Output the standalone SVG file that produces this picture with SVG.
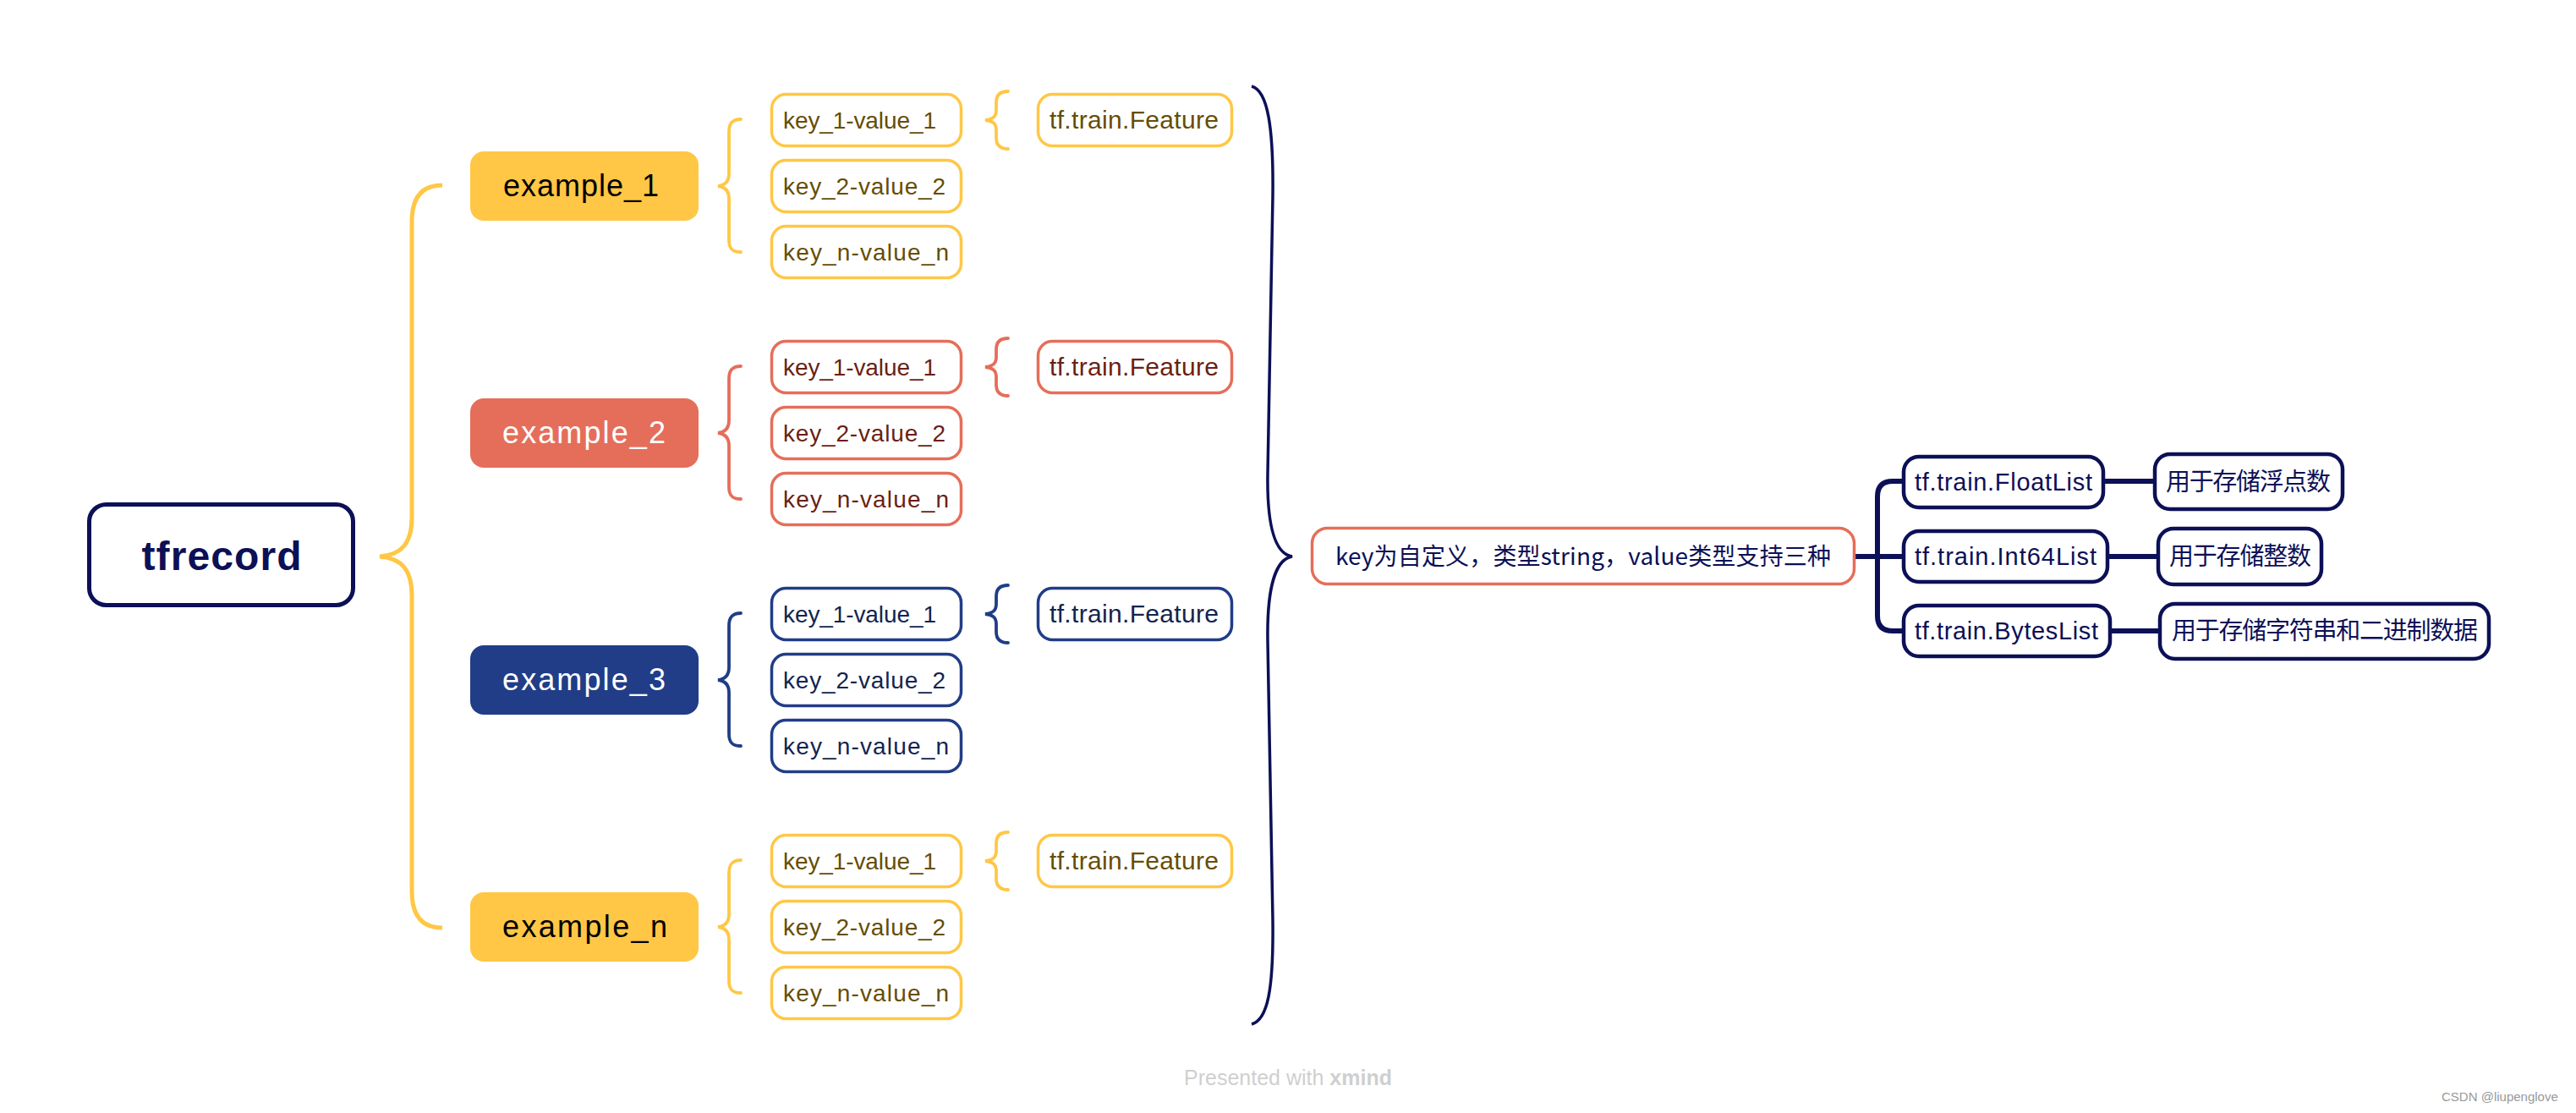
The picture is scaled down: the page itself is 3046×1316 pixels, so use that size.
<svg xmlns="http://www.w3.org/2000/svg" width="3046" height="1316" viewBox="0 0 3046 1316">
<style>
text{font-family:"Liberation Sans","Noto Sans CJK SC",sans-serif;}
.cjk{font-family:"Noto Sans CJK SC","Liberation Sans",sans-serif;}
.box{fill:#fff;stroke-width:3.5;}
.y{stroke:#FFC745;} .r{stroke:#E56E5A;} .b{stroke:#213D87;}
.ty{fill:#664D03;} .tr{fill:#6B1F14;} .tb{fill:#13244F;}
.kt{font-size:28px;}
.ft{font-size:30px;}
.ex{font-size:36px;}
.nv{fill:#fff;stroke:#0C1056;stroke-width:4.5;}
.nt{fill:#0C1056;font-size:29px;}
.br{fill:none;stroke-width:3.8;stroke-linecap:round;}
.ln{fill:none;stroke:#0C1056;stroke-width:6;}
</style>
<rect width="3046" height="1316" fill="#fff"/>
<g id="connectors">
  <path d="M523,219 C500,219 487,232 487,262 L487,612 C487,642 475,656 449,658 C475,660 487,674 487,704 L487,1054 C487,1084 500,1097 523,1097" fill="none" stroke="#FFC745" stroke-width="5"/>
  <g id="braces-row1" class="y">
    <path class="br" d="M876,141 C866,141 862,146 862,156 L862,205 C862,214 858,219 849,220 C858,221 862,226 862,235 L862,284 C862,294 866,298 876,298"/>
    <path class="br" d="M1192,108 C1183,108 1178,112 1178,121 L1178,130 C1178,138 1174,141 1165,142 C1174,143 1178,146 1178,154 L1178,163 C1178,172 1183,176 1192,176"/>
  </g>
  <g id="braces-row2" class="r" transform="translate(0,292)">
    <path class="br" d="M876,141 C866,141 862,146 862,156 L862,205 C862,214 858,219 849,220 C858,221 862,226 862,235 L862,284 C862,294 866,298 876,298"/>
    <path class="br" d="M1192,108 C1183,108 1178,112 1178,121 L1178,130 C1178,138 1174,141 1165,142 C1174,143 1178,146 1178,154 L1178,163 C1178,172 1183,176 1192,176"/>
  </g>
  <g id="braces-row3" class="b" transform="translate(0,584)">
    <path class="br" d="M876,141 C866,141 862,146 862,156 L862,205 C862,214 858,219 849,220 C858,221 862,226 862,235 L862,284 C862,294 866,298 876,298"/>
    <path class="br" d="M1192,108 C1183,108 1178,112 1178,121 L1178,130 C1178,138 1174,141 1165,142 C1174,143 1178,146 1178,154 L1178,163 C1178,172 1183,176 1192,176"/>
  </g>
  <g id="braces-row4" class="y" transform="translate(0,876)">
    <path class="br" d="M876,141 C866,141 862,146 862,156 L862,205 C862,214 858,219 849,220 C858,221 862,226 862,235 L862,284 C862,294 866,298 876,298"/>
    <path class="br" d="M1192,108 C1183,108 1178,112 1178,121 L1178,130 C1178,138 1174,141 1165,142 C1174,143 1178,146 1178,154 L1178,163 C1178,172 1183,176 1192,176"/>
  </g>
  <path d="M1480,102 C1499,107 1506,150 1505,232 L1499,560 C1498,622 1508,655 1528,658 C1508,661 1498,696 1499,758 L1505,1088 C1506,1170 1499,1206 1480,1211" fill="none" stroke="#0C1056" stroke-width="3.5"/>
  <path class="ln" d="M2194,658 L2249,658 M2249,569 L2238,569 Q2220,569 2220,587 L2220,728 Q2220,746 2238,746 L2249,746"/>
  <path class="ln" stroke-width="7" d="M2489,569 L2546,569 M2494,658 L2550,658 M2497,746 L2552,746"/>
</g>
<g id="tfrecord">
  <rect x="105.5" y="596.5" width="312" height="119" rx="20" fill="#fff" stroke="#0C1056" stroke-width="5"/>
  <text x="262" y="674" text-anchor="middle" font-size="48" font-weight="bold" fill="#0C1056" textLength="189">tfrecord</text>
</g>
<g id="example_1">
  <rect x="556" y="179" width="270" height="82" rx="16" fill="#FFC745"/>
  <text class="ex" x="595" y="232" fill="#000" textLength="184">example_1</text>
</g>
<g id="example_2">
  <rect x="556" y="471" width="270" height="82" rx="16" fill="#E56E5A"/>
  <text class="ex" x="594" y="524" fill="#fff" textLength="193">example_2</text>
</g>
<g id="example_3">
  <rect x="556" y="763" width="270" height="82" rx="16" fill="#213D87"/>
  <text class="ex" x="594" y="816" fill="#fff" textLength="193">example_3</text>
</g>
<g id="example_n">
  <rect x="556" y="1055" width="270" height="82" rx="16" fill="#FFC745"/>
  <text class="ex" x="594" y="1108" fill="#000" textLength="195">example_n</text>
</g>
<g id="row1-key1"><rect class="box y" x="912.5" y="111.5" width="224" height="61" rx="17"/><text class="kt ty" x="926" y="152" textLength="181">key_1-value_1</text></g>
<g id="row1-key2"><rect class="box y" x="912.5" y="189.5" width="224" height="61" rx="17"/><text class="kt ty" x="926" y="230" textLength="192">key_2-value_2</text></g>
<g id="row1-keyn"><rect class="box y" x="912.5" y="267.5" width="224" height="61" rx="17"/><text class="kt ty" x="926" y="308" textLength="196">key_n-value_n</text></g>
<g id="row1-feature"><rect class="box y" x="1227.5" y="111.5" width="229" height="61" rx="17"/><text class="ft ty" x="1241" y="152" textLength="200">tf.train.Feature</text></g>
<g id="row2-key1"><rect class="box r" x="912.5" y="403.5" width="224" height="61" rx="17"/><text class="kt tr" x="926" y="444" textLength="181">key_1-value_1</text></g>
<g id="row2-key2"><rect class="box r" x="912.5" y="481.5" width="224" height="61" rx="17"/><text class="kt tr" x="926" y="522" textLength="192">key_2-value_2</text></g>
<g id="row2-keyn"><rect class="box r" x="912.5" y="559.5" width="224" height="61" rx="17"/><text class="kt tr" x="926" y="600" textLength="196">key_n-value_n</text></g>
<g id="row2-feature"><rect class="box r" x="1227.5" y="403.5" width="229" height="61" rx="17"/><text class="ft tr" x="1241" y="444" textLength="200">tf.train.Feature</text></g>
<g id="row3-key1"><rect class="box b" x="912.5" y="695.5" width="224" height="61" rx="17"/><text class="kt tb" x="926" y="736" textLength="181">key_1-value_1</text></g>
<g id="row3-key2"><rect class="box b" x="912.5" y="773.5" width="224" height="61" rx="17"/><text class="kt tb" x="926" y="814" textLength="192">key_2-value_2</text></g>
<g id="row3-keyn"><rect class="box b" x="912.5" y="851.5" width="224" height="61" rx="17"/><text class="kt tb" x="926" y="892" textLength="196">key_n-value_n</text></g>
<g id="row3-feature"><rect class="box b" x="1227.5" y="695.5" width="229" height="61" rx="17"/><text class="ft tb" x="1241" y="736" textLength="200">tf.train.Feature</text></g>
<g id="row4-key1"><rect class="box y" x="912.5" y="987.5" width="224" height="61" rx="17"/><text class="kt ty" x="926" y="1028" textLength="181">key_1-value_1</text></g>
<g id="row4-key2"><rect class="box y" x="912.5" y="1065.5" width="224" height="61" rx="17"/><text class="kt ty" x="926" y="1106" textLength="192">key_2-value_2</text></g>
<g id="row4-keyn"><rect class="box y" x="912.5" y="1143.5" width="224" height="61" rx="17"/><text class="kt ty" x="926" y="1184" textLength="196">key_n-value_n</text></g>
<g id="row4-feature"><rect class="box y" x="1227.5" y="987.5" width="229" height="61" rx="17"/><text class="ft ty" x="1241" y="1028" textLength="200">tf.train.Feature</text></g>
<g id="key-desc">
  <rect class="box r" x="1551.5" y="624.5" width="641" height="66" rx="18"/>
  <text class="cjk" x="1579" y="668" font-size="28" fill="#0C1056" textLength="586">key为自定义，类型string，value类型支持三种</text>
</g>
<g id="floatlist"><rect class="nv" x="2251" y="540" width="236" height="60" rx="18"/><text class="nt" x="2264" y="580" textLength="210">tf.train.FloatList</text></g>
<g id="int64list"><rect class="nv" x="2251" y="628" width="241" height="60" rx="18"/><text class="nt" x="2264" y="668" textLength="215">tf.train.Int64List</text></g>
<g id="byteslist"><rect class="nv" x="2251" y="716" width="244" height="60" rx="18"/><text class="nt" x="2264" y="756" textLength="217">tf.train.BytesList</text></g>
<g id="float-desc"><rect class="nv" x="2548" y="537" width="222" height="65" rx="18"/><text class="nt cjk" x="2561" y="580" font-size="28" textLength="195">用于存储浮点数</text></g>
<g id="int-desc"><rect class="nv" x="2552" y="625" width="193" height="66" rx="18"/><text class="nt cjk" x="2565" y="668" font-size="28" textLength="168">用于存储整数</text></g>
<g id="bytes-desc"><rect class="nv" x="2554" y="714" width="389" height="65" rx="18"/><text class="nt cjk" x="2568" y="756" font-size="28" textLength="362">用于存储字符串和二进制数据</text></g>
<text x="1400" y="1283" font-size="25" fill="#CFCFCF">Presented with <tspan font-weight="bold">xmind</tspan></text>
<text x="2887" y="1302" font-size="15" fill="#999">CSDN @liupenglove</text>
</svg>
